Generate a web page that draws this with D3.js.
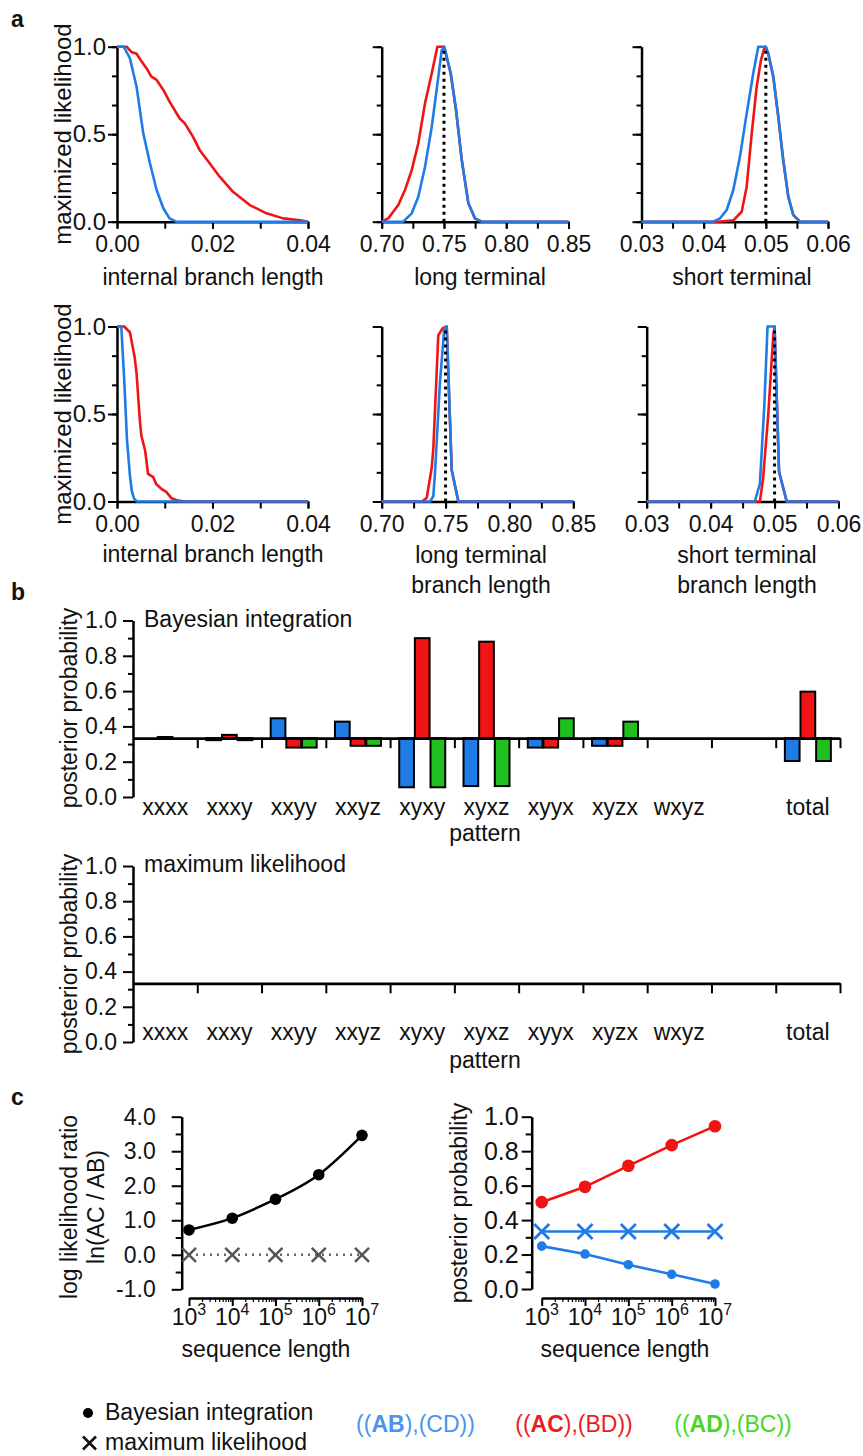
<!DOCTYPE html>
<html><head><meta charset="utf-8">
<script src="https://cdn.jsdelivr.net/npm/d3@7"></script>
<style>body{margin:0;background:#fff}svg{display:block}</style>
</head><body><script>
// ---------------- DATA ----------------
// panel a : maximized likelihood profiles  [branch length, likelihood]
const topInternalRed  = [[0,1],[0.002,1],[0.003,0.97],[0.0041,0.96],[0.0048,0.93],[0.0062,0.876],[0.0072,0.829],[0.0083,0.81],[0.0097,0.753],[0.011,0.686],[0.0131,0.591],[0.0142,0.562],[0.0159,0.486],[0.0173,0.41],[0.0194,0.334],[0.0215,0.257],[0.0243,0.171],[0.0278,0.095],[0.0313,0.048],[0.0348,0.019],[0.0383,0.008],[0.04,0]];
const topInternalBlue = [[0,1],[0.0014,1],[0.0027,0.934],[0.0041,0.771],[0.0055,0.505],[0.0069,0.334],[0.0083,0.181],[0.0097,0.077],[0.011,0.019],[0.0124,0],[0.04,0]];
const topLongRed  = [[0.70,0],[0.7053,0.019],[0.7133,0.095],[0.7187,0.181],[0.7241,0.295],[0.7294,0.448],[0.7348,0.677],[0.7402,0.848],[0.7447,1],[0.749,1],[0.7502,1],[0.7554,0.848],[0.7597,0.638],[0.7643,0.352],[0.7696,0.105],[0.7749,0.019],[0.7803,0],[0.85,0]];
const topLongBlue = [[0.70,0],[0.7173,0],[0.7241,0.048],[0.7294,0.143],[0.7348,0.314],[0.7402,0.543],[0.7455,0.829],[0.7482,0.98],[0.7502,1],[0.7554,0.848],[0.7597,0.638],[0.7643,0.352],[0.7696,0.105],[0.7749,0.019],[0.7803,0],[0.85,0]];
const topShortRed  = [[0.03,0],[0.04235,0],[0.04477,0.008],[0.04612,0.057],[0.04692,0.2],[0.04773,0.505],[0.04853,0.772],[0.04922,0.924],[0.04975,0.99],[0.04998,1],[0.0504,0.96],[0.0512,0.829],[0.052,0.6],[0.0528,0.352],[0.05361,0.143],[0.05442,0.038],[0.0555,0],[0.06,0]];
const topShortBlue = [[0.03,0],[0.04155,0],[0.04263,0.019],[0.0437,0.067],[0.04477,0.181],[0.04584,0.372],[0.04692,0.619],[0.04798,0.848],[0.04879,1],[0.04998,1],[0.0504,0.96],[0.0512,0.829],[0.052,0.6],[0.0528,0.352],[0.05361,0.143],[0.05442,0.038],[0.0555,0],[0.06,0]];
const botInternalRed  = [[0,1],[0.0015,1],[0.0027,0.967],[0.0037,0.824],[0.0041,0.73],[0.0048,0.46],[0.0051,0.377],[0.0059,0.29],[0.0065,0.158],[0.0076,0.139],[0.0082,0.1],[0.0093,0.072],[0.0103,0.055],[0.0114,0.019],[0.0128,0.005],[0.0142,0],[0.04,0]];
const botInternalBlue = [[0,1],[0.0009,1],[0.0015,0.7],[0.0021,0.35],[0.0027,0.15],[0.0031,0.06],[0.0036,0.015],[0.0042,0],[0.04,0]];
const botLongRed  = [[0.70,0],[0.7313,0],[0.7352,0.02],[0.7391,0.19],[0.7404,0.3],[0.7443,0.95],[0.7477,0.99],[0.7509,1],[0.7548,0.18],[0.76,0],[0.85,0]];
const botLongBlue = [[0.70,0],[0.7378,0],[0.7404,0.03],[0.7417,0.16],[0.7456,0.68],[0.749,0.99],[0.7509,1],[0.7548,0.18],[0.76,0],[0.85,0]];
const botShortRed  = [[0.03,0],[0.0477,0],[0.0482,0.13],[0.049,0.49],[0.0498,0.95],[0.05,1],[0.0507,0.17],[0.0519,0],[0.06,0]];
const botShortBlue = [[0.03,0],[0.0469,0],[0.0477,0.1],[0.0484,0.55],[0.0489,1],[0.05,1],[0.0507,0.17],[0.0519,0],[0.06,0]];
const trueLong = 0.75, trueShort = 0.05;

const aYTicks  = [0,1/6,2/6,3/6,4/6,5/6,1];
const aYLabels = [0,0.5,1];
const internalTicks = [0,0.01,0.02,0.03,0.04], internalLabels = [0,0.02,0.04];
const longTicks  = [0.70,0.725,0.75,0.775,0.80,0.825,0.85], longLabels = [0.70,0.75,0.80,0.85];
const shortTicks = [0.03,0.035,0.04,0.045,0.05,0.055,0.06], shortLabels = [0.03,0.04,0.05,0.06];

// panel b : posterior probability per site pattern
const patterns = ["xxxx","xxxy","xxyy","xxyz","xyxy","xyxz","xyyx","xyzx","wxyz","","total"];
const bayesAB = [0.3333,0.322,0.446,0.427,0.055,0.062,0.28,0.29,0.3333,0.3333,0.204];
const bayesAC = [0.34,0.352,0.28,0.29,0.90,0.88,0.28,0.29,0.3333,0.3333,0.597];
const bayesAD = [0.3333,0.322,0.28,0.29,0.055,0.062,0.446,0.427,0.3333,0.3333,0.204];
const mlAB = [1/3,1/3,1/3,1/3,1/3,1/3,1/3,1/3,1/3,1/3,1/3];
const mlAC = [1/3,1/3,1/3,1/3,1/3,1/3,1/3,1/3,1/3,1/3,1/3];
const mlAD = [1/3,1/3,1/3,1/3,1/3,1/3,1/3,1/3,1/3,1/3,1/3];
const probTicks = [0,0.2,0.4,0.6,0.8,1.0], probMinor = [0.1,0.3,0.5,0.7,0.9];

// panel c : sequence length series
const seqLength = [1e3,1e4,1e5,1e6,1e7];
const llrBayes  = [0.72,1.06,1.61,2.32,3.46];
const llrML     = [0,0,0,0,0];
const ppBayesAB = [0.249,0.203,0.141,0.085,0.029];
const ppBayesAC = [0.504,0.593,0.715,0.835,0.945];
const ppML      = [1/3,1/3,1/3,1/3,1/3];
const llrTicks = [-1,0,1,2,3,4], llrMinor = [-0.5,0.5,1.5,2.5,3.5];
const expTicks = [3,4,5,6,7];

// ---------------- DRAWING ----------------
const BLUE="#1f7be6", RED="#f01414", GREEN="#1fbf1f";
const FONT='"Liberation Sans", Arial, Helvetica, sans-serif';
const svg = d3.select("body").append("svg").attr("width",863).attr("height",1456);
svg.append("rect").attr("width",863).attr("height",1456).attr("fill","#fff");
const fmt1 = v => d3.format(".1f")(v).replace("\u2212","-");

function txt(x,y,s,o={}){
  return svg.append("text").attr("x",x).attr("y",y).attr("font-family",FONT)
    .attr("font-size",o.fs||23).attr("text-anchor",o.anchor||"start")
    .attr("font-weight",o.bold?"bold":null).attr("fill",o.fill||"#111").text(s);
}
function vtxt(x,y,s,fs=23){
  return svg.append("text").attr("transform",`translate(${x},${y}) rotate(-90)`)
    .attr("text-anchor","middle").attr("font-family",FONT).attr("font-size",fs).attr("fill","#111").text(s);
}
function styleAxis(g,fs=23){
  g.select(".domain").attr("stroke","#000").attr("stroke-width",2.5);
  g.selectAll(".tick line").attr("stroke","#000").attr("stroke-width",2);
  g.selectAll(".tick text").attr("font-size",fs).attr("font-family",FONT).attr("fill","#111");
  g.attr("font-family",FONT);
}

// ---- panel a ----
txt(11,27,"a",{bold:true,fs:23});
const aPanels = [
 {x0:117,x1:308,yT:46.7,yB:221.7,dom:[0,0.04],ticks:internalTicks,labels:internalLabels,ylab:true,red:topInternalRed,blue:topInternalBlue,dot:null,title:["internal branch length"],tx:213,ty:285},
 {x0:381.7,x1:568.5,yT:46.7,yB:221.7,dom:[0.70,0.85],ticks:longTicks,labels:longLabels,ylab:false,red:topLongRed,blue:topLongBlue,dot:trueLong,title:["long terminal"],tx:480,ty:285},
 {x0:641.5,x1:828,yT:46.7,yB:221.7,dom:[0.03,0.06],ticks:shortTicks,labels:shortLabels,ylab:false,red:topShortRed,blue:topShortBlue,dot:trueShort,title:["short terminal"],tx:742,ty:285},
 {x0:117,x1:308,yT:326.5,yB:501.5,dom:[0,0.04],ticks:internalTicks,labels:internalLabels,ylab:true,red:botInternalRed,blue:botInternalBlue,dot:null,title:["internal branch length"],tx:213,ty:562},
 {x0:381.7,x1:573.3,yT:326.5,yB:501.5,dom:[0.70,0.85],ticks:longTicks,labels:longLabels,ylab:false,red:botLongRed,blue:botLongBlue,dot:trueLong,title:["long terminal","branch length"],tx:481,ty:563},
 {x0:646.7,x1:838.5,yT:326.5,yB:501.5,dom:[0.03,0.06],ticks:shortTicks,labels:shortLabels,ylab:false,red:botShortRed,blue:botShortBlue,dot:trueShort,title:["short terminal","branch length"],tx:747,ty:563}
];
aPanels.forEach(p=>{
  const x=d3.scaleLinear().domain(p.dom).range([p.x0,p.x1]);
  const y=d3.scaleLinear().domain([0,1]).range([p.yB,p.yT]);
  const gyMin=svg.append("g").attr("transform",`translate(${p.x0},0)`)
    .call(d3.axisLeft(y).tickValues(aYTicks).tickSize(5).tickSizeOuter(0).tickFormat(""));
  styleAxis(gyMin); gyMin.select(".domain").remove();
  const gy=svg.append("g").attr("transform",`translate(${p.x0},0)`)
    .call(d3.axisLeft(y).tickValues(aYLabels).tickSize(9).tickSizeOuter(0).tickPadding(2)
      .tickFormat(p.ylab?d3.format(".1f"):""));
  styleAxis(gy,24);
  const gxMin=svg.append("g").attr("transform",`translate(0,${p.yB})`)
    .call(d3.axisBottom(x).tickValues(p.ticks).tickSize(7).tickSizeOuter(0).tickFormat(""));
  styleAxis(gxMin); gxMin.select(".domain").remove();
  const gx=svg.append("g").attr("transform",`translate(0,${p.yB})`)
    .call(d3.axisBottom(x).tickValues(p.labels).tickSize(7).tickSizeOuter(0).tickPadding(7).tickFormat(d3.format(".2f")));
  styleAxis(gx,23);
  const line=d3.line().x(d=>x(d[0])).y(d=>y(d[1]));
  svg.append("path").datum(p.red).attr("d",line).attr("fill","none").attr("stroke",RED).attr("stroke-width",2.6).attr("stroke-linejoin","round");
  svg.append("path").datum(p.blue).attr("d",line).attr("fill","none").attr("stroke",BLUE).attr("stroke-width",2.6).attr("stroke-linejoin","round");
  if(p.dot!==null){
    svg.append("line").attr("x1",x(p.dot)).attr("x2",x(p.dot)).attr("y1",y(0)).attr("y2",y(0.985))
      .attr("stroke","#000").attr("stroke-width",3).attr("stroke-dasharray","3,4");
  }
  p.title.forEach((t,i)=>txt(p.tx,p.ty+i*30,t,{anchor:"middle"}));
});
vtxt(71,134,"maximized likelihood",24);
vtxt(71,414,"maximized likelihood",24);

// ---- panel b ----
txt(11,600,"b",{bold:true,fs:23});
function barPanel(yT,yB,AB,AC,AD,title,labelY,patY){
  const slot=d3.scaleBand().domain(d3.range(patterns.length)).range([133,840]).padding(0);
  const inner=d3.scaleBand().domain([0,1,2]).range([-23,23]).paddingInner(0.06);
  const y=d3.scaleLinear().domain([0,1]).range([yB,yT]);
  const base=1/3;
  const gMin=svg.append("g").attr("transform","translate(133,0)")
    .call(d3.axisLeft(y).tickValues(probMinor).tickSize(5).tickSizeOuter(0).tickFormat(""));
  styleAxis(gMin); gMin.select(".domain").remove();
  const g=svg.append("g").attr("transform","translate(133,0)")
    .call(d3.axisLeft(y).tickValues(probTicks).tickSize(10).tickSizeOuter(0).tickPadding(6).tickFormat(d3.format(".1f")));
  styleAxis(g,23);
  const series=[[AB,BLUE],[AC,RED],[AD,GREEN]];
  series.forEach(([vals,col],j)=>{
    svg.append("g").selectAll("rect").data(vals.map((v,i)=>({v,i})).filter(d=>patterns[d.i]!==""&&Math.abs(d.v-base)>0.004))
      .join("rect")
      .attr("x",d=>slot(d.i)+slot.bandwidth()/2+inner(j))
      .attr("width",inner.bandwidth())
      .attr("y",d=>y(Math.max(d.v,base)))
      .attr("height",d=>Math.abs(y(d.v)-y(base)))
      .attr("fill",col).attr("stroke","#000").attr("stroke-width",2);
  });
  const xb=d3.scaleLinear().domain([0,patterns.length]).range([133,840]);
  const gx=svg.append("g").attr("transform",`translate(0,${y(base)})`)
    .call(d3.axisBottom(xb).tickValues(d3.range(1,patterns.length+1)).tickSize(10).tickSizeOuter(0).tickFormat(""));
  styleAxis(gx);
  gx.select(".domain").attr("stroke-width",2.8);
  patterns.forEach((p,i)=>{ if(p) txt(slot(i)+slot.bandwidth()/2,labelY,p,{anchor:"middle"}); });
  txt(485,patY,"pattern",{anchor:"middle"});
  txt(144,yT+6,title,{fs:23});
}
barPanel(620.5,797,bayesAB,bayesAC,bayesAD,"Bayesian integration",815,841);
barPanel(866,1042,mlAB,mlAC,mlAD,"maximum likelihood",1040,1068);
vtxt(77,708,"posterior probability");
vtxt(77,954,"posterior probability");

// ---- panel c ----
txt(11,1105,"c",{bold:true,fs:23});
function crossPath(cx,cy,h){return `M${cx-h},${cy-h}L${cx+h},${cy+h}M${cx-h},${cy+h}L${cx+h},${cy-h}`;}
function logAxis(x,yAxis){
  const minor=[];
  for(let e=3;e<7;e++) for(let k=2;k<10;k++) minor.push(k*Math.pow(10,e));
  const gm=svg.append("g").attr("transform",`translate(0,${yAxis})`)
    .call(d3.axisBottom(x).tickValues(minor).tickSize(4).tickSizeOuter(0).tickFormat(""));
  styleAxis(gm); gm.selectAll(".tick line").attr("stroke-width",1.2); gm.select(".domain").remove();
  const g=svg.append("g").attr("transform",`translate(0,${yAxis})`)
    .call(d3.axisBottom(x).tickValues(seqLength).tickSize(8).tickSizeOuter(0).tickFormat(""));
  styleAxis(g);
  seqLength.forEach((v,i)=>{
    const t=svg.append("text").attr("x",x(v)).attr("y",yAxis+27).attr("text-anchor","middle")
      .attr("font-family",FONT).attr("font-size",23).attr("fill","#111");
    t.append("tspan").text("10");
    t.append("tspan").attr("dy",-10).attr("font-size",16).text(expTicks[i]);
  });
}
{
  const x=d3.scaleLog().domain([1e3,1e7]).range([189,362]);
  const y=d3.scaleLinear().domain([-1,4]).range([1289.3,1116.7]);
  const gm=svg.append("g").attr("transform","translate(181.7,0)")
    .call(d3.axisLeft(y).tickValues(llrMinor).tickSize(6).tickSizeOuter(0).tickFormat(""));
  styleAxis(gm); gm.select(".domain").remove();
  const g=svg.append("g").attr("transform","translate(181.7,0)")
    .call(d3.axisLeft(y).tickValues(llrTicks).tickSize(10).tickSizeOuter(0).tickPadding(16).tickFormat(fmt1));
  styleAxis(g,23);
  logAxis(x,1298);
  const ml=d3.line().x((d,i)=>x(seqLength[i])).y(d=>y(d));
  svg.append("path").datum(llrML).attr("d",ml).attr("fill","none").attr("stroke","#666").attr("stroke-width",2.5).attr("stroke-dasharray","2,5");
  llrML.forEach((v,i)=>svg.append("path").attr("d",crossPath(x(seqLength[i]),y(v),7)).attr("stroke","#555").attr("stroke-width",2.5).attr("fill","none"));
  const bl=d3.line().x((d,i)=>x(seqLength[i])).y(d=>y(d)).curve(d3.curveNatural);
  svg.append("path").datum(llrBayes).attr("d",bl).attr("fill","none").attr("stroke","#000").attr("stroke-width",2.5);
  svg.append("g").selectAll("circle").data(llrBayes).join("circle")
    .attr("cx",(d,i)=>x(seqLength[i])).attr("cy",d=>y(d)).attr("r",5.8).attr("fill","#000");
  vtxt(77,1207,"log likelihood ratio");
  vtxt(104,1207,"ln(AC / AB)");
  txt(266,1357,"sequence length",{anchor:"middle"});
}
{
  const x=d3.scaleLog().domain([1e3,1e7]).range([541.7,715]);
  const y=d3.scaleLinear().domain([0,1]).range([1289,1116.7]);
  const gm=svg.append("g").attr("transform","translate(531.7,0)")
    .call(d3.axisLeft(y).tickValues(probMinor).tickSize(6).tickSizeOuter(0).tickFormat(""));
  styleAxis(gm); gm.select(".domain").remove();
  const g=svg.append("g").attr("transform","translate(531.7,0)")
    .call(d3.axisLeft(y).tickValues(probTicks).tickSize(10).tickSizeOuter(0).tickPadding(3).tickFormat(d3.format(".1f")));
  styleAxis(g,25);
  logAxis(x,1298);
  const ln=d3.line().x((d,i)=>x(seqLength[i])).y(d=>y(d));
  svg.append("path").datum(ppBayesAC).attr("d",ln).attr("fill","none").attr("stroke",RED).attr("stroke-width",2.6);
  svg.append("g").selectAll("circle").data(ppBayesAC).join("circle")
    .attr("cx",(d,i)=>x(seqLength[i])).attr("cy",d=>y(d)).attr("r",6.3).attr("fill",RED);
  svg.append("path").datum(ppML).attr("d",ln).attr("fill","none").attr("stroke",BLUE).attr("stroke-width",2.6);
  ppML.forEach((v,i)=>svg.append("path").attr("d",crossPath(x(seqLength[i]),y(v),7.5)).attr("stroke",BLUE).attr("stroke-width",2.8).attr("fill","none"));
  svg.append("path").datum(ppBayesAB).attr("d",ln).attr("fill","none").attr("stroke",BLUE).attr("stroke-width",2.6);
  svg.append("g").selectAll("circle").data(ppBayesAB).join("circle")
    .attr("cx",(d,i)=>x(seqLength[i])).attr("cy",d=>y(d)).attr("r",4.8).attr("fill",BLUE);
  vtxt(467,1203,"posterior probability");
  txt(625,1357,"sequence length",{anchor:"middle"});
}

// ---- legend ----
svg.append("circle").attr("cx",88).attr("cy",1413).attr("r",5).attr("fill","#000");
txt(105,1420,"Bayesian integration");
svg.append("path").attr("d",crossPath(89.5,1443,6.5)).attr("stroke","#111").attr("stroke-width",2.6).attr("fill","none");
txt(105,1450,"maximum likelihood");
const legendTrees=[["((","AB","),(CD))","#4a94ec",415.5],["((","AC","),(BD))","#ee1c1c",574],["((","AD","),(BC))","#46d824",733]];
legendTrees.forEach(([a,b,c,col,cx])=>{
  const t=svg.append("text").attr("x",cx).attr("y",1432).attr("text-anchor","middle")
    .attr("font-family",FONT).attr("font-size",23).attr("fill",col);
  t.append("tspan").text(a);
  t.append("tspan").attr("font-weight","bold").text(b);
  t.append("tspan").text(c);
});
</script></body></html>
